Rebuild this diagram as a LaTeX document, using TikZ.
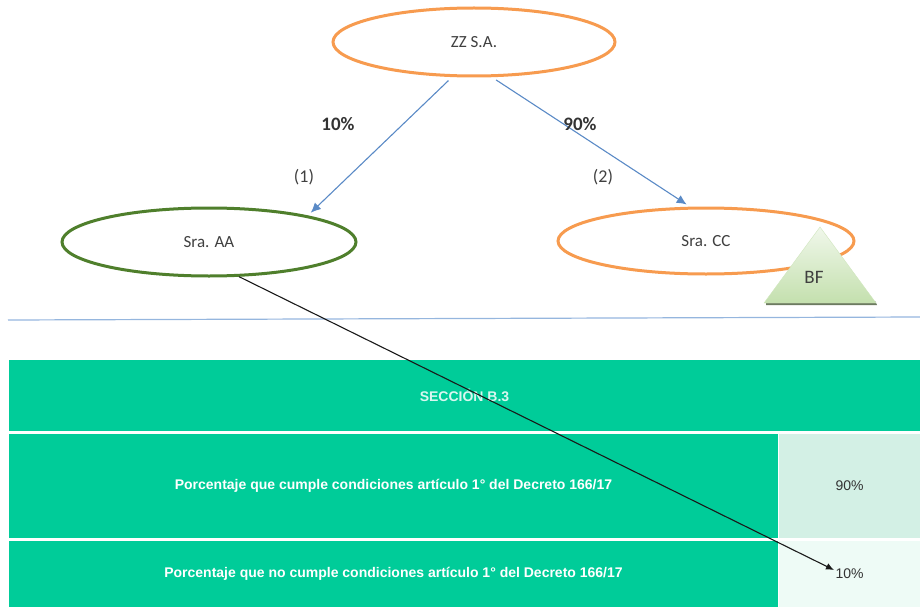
\documentclass[tikz,border=0pt]{standalone}
\usepackage{fontspec}
\setmainfont{Carlito}
\newfontfamily\tablefont{Liberation Sans}
\usetikzlibrary{arrows.meta,positioning,shapes.geometric}
\definecolor{rowgreen}{HTML}{00CC99}
\definecolor{cellone}{HTML}{D3F0E5}
\definecolor{celltwo}{HTML}{EEFBF6}
\definecolor{ringorange}{HTML}{F79B4F}
\definecolor{ringgreen}{HTML}{4F7F2C}
\definecolor{linkblue}{HTML}{5A8AC6}
\definecolor{ruleblue}{HTML}{95B6DE}
\definecolor{bfgreen}{HTML}{C4E0AE}
\tikzset{
  person/.style={ellipse,draw=ringorange,line width=3pt,fill=white,text=black!75,font=\fontsize{17}{20}\selectfont,inner sep=0pt},
  share/.style={text=black!80,font=\fontsize{19}{22}\selectfont\bfseries},
  refmark/.style={text=black!75,font=\fontsize{18}{22}\selectfont},
  link/.style={draw=linkblue,line width=1.1pt,-{Latex[length=10pt,width=9pt]},shorten >=4pt,shorten <=5pt},
  rowbox/.style={fill=rowgreen,inner sep=0pt,text=white,font=\tablefont\fontsize{14}{17}\selectfont\bfseries},
  valbox/.style={inner sep=0pt,text=black!80,font=\tablefont\fontsize{14}{17}\selectfont}
}
\begin{document}
\begin{tikzpicture}[x=1pt,y=-1pt]
  \useasboundingbox (0,0) rectangle (920,607);
  \node (zz) [person,minimum width=282pt,minimum height=68pt] at (474,42) {ZZ S.A.};
  \node (aa) [person,draw=ringgreen,minimum width=294pt,minimum height=68pt] at (209,242) {Sra. AA};
  \node (cc) [person,minimum width=296pt,minimum height=66pt] at (706,241) {Sra. CC};
  % Triangle over the right ellipse, its shadow first:
  \fill [black!45!bfgreen] (766,305) -- (877,305) -- (875,301) -- (766,301) -- cycle;
  \draw [draw=bfgreen!80!white,top color=bfgreen!25!white,bottom color=bfgreen] (820,227) -- (876,303) -- (764,303) -- cycle;
  \node (bf) [text=black!75,font=\fontsize{19}{22}\selectfont,inner sep=0pt] at (814,277) {BF};
  \draw [link] (zz.238) -- (aa.15);
  \draw [link] (zz.297) -- (cc.115);
  \node (pa) [share] at (338,124) {10\%};
  \node (pc) [share] at (580,124) {90\%};
  \node (ma) [refmark] at (304,177) {(1)};
  \node (mc) [refmark] at (603,177) {(2)};
  \coordinate (ruleL) at (8,320);
  \coordinate (ruleR) at (920,317);
  \draw [ruleblue,line width=1.2pt] (ruleL) -- (ruleR);
  % Table: one header row, then two rows with a value cell
  \node (head) [rowbox,minimum width=911pt,minimum height=71pt,text=white!85!rowgreen] at (464.5,395.5) {SECCI\'ON B.3};
  \node (rowa) [rowbox,minimum width=769pt,minimum height=104pt] at (393.5,486) {Porcentaje que cumple condiciones art\'iculo 1° del Decreto 166/17};
  \node (rowb) [rowbox,minimum width=769pt,minimum height=66pt] at (393.5,574) {Porcentaje que no cumple condiciones art\'iculo 1° del Decreto 166/17};
  \node (vala) [valbox,fill=cellone,minimum width=141pt,minimum height=104pt] at (849.5,486) {90\%};
  \node (valb) [valbox,fill=celltwo,minimum width=141pt,minimum height=66pt] at (849.5,574) {10\%};
  \coordinate (tip) at (834,570);
  \draw [black!90,line width=1.1pt,-{Latex[length=8pt,width=7pt]}] (aa.311) -- (tip);
\end{tikzpicture}
\end{document}
